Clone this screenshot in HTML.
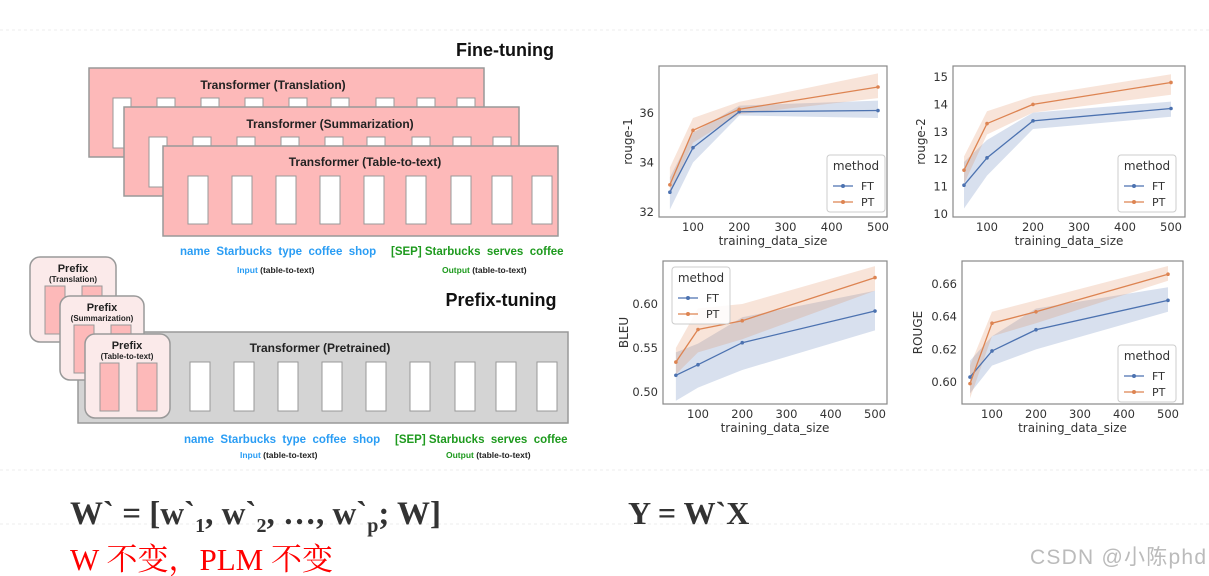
<!DOCTYPE html>
<html><head><meta charset="utf-8"><style>
body{margin:0;background:#fff;width:1209px;height:576px;overflow:hidden;font-family:"Liberation Sans","Noto Sans CJK SC",sans-serif}
svg{position:absolute;left:0;top:0}
</style></head><body>
<svg id="s" width="1209" height="576" viewBox="0 0 1209 576">
<g stroke="#eee" stroke-dasharray="3,3">
<line x1="0" y1="30" x2="1209" y2="30"/><line x1="0" y1="470" x2="1209" y2="470"/><line x1="0" y1="524" x2="1209" y2="524"/>
</g>
<g font-family="Liberation Sans, sans-serif" font-weight="bold">
<text x="505" y="56" font-size="18" text-anchor="middle" fill="#111">Fine-tuning</text>
<g>
<rect x="89" y="68" width="395" height="89" fill="#fdb9b9" stroke="#999" stroke-width="1.5"/>
<text x="273" y="89" font-size="12" text-anchor="middle" fill="#222">Transformer (Translation)</text>
<g fill="#fff" stroke="#999"><rect x="113" y="98" width="18" height="50"/><rect x="157" y="98" width="18" height="9"/><rect x="201" y="98" width="18" height="9"/><rect x="245" y="98" width="18" height="9"/><rect x="289" y="98" width="18" height="9"/><rect x="331" y="98" width="18" height="9"/><rect x="376" y="98" width="18" height="9"/><rect x="417" y="98" width="18" height="9"/><rect x="457" y="98" width="18" height="9"/></g>
</g>
<g>
<rect x="124" y="107" width="395" height="89" fill="#fdb9b9" stroke="#999" stroke-width="1.5"/>
<text x="330" y="128" font-size="12" text-anchor="middle" fill="#222">Transformer (Summarization)</text>
<g fill="#fff" stroke="#999"><rect x="149" y="137" width="18" height="50"/><rect x="193" y="137" width="18" height="9"/><rect x="237" y="137" width="18" height="9"/><rect x="281" y="137" width="18" height="9"/><rect x="325" y="137" width="18" height="9"/><rect x="367" y="137" width="18" height="9"/><rect x="412" y="137" width="18" height="9"/><rect x="453" y="137" width="18" height="9"/><rect x="493" y="137" width="18" height="9"/></g>
</g>
<g>
<rect x="163" y="146" width="395" height="90" fill="#fdb9b9" stroke="#999" stroke-width="1.5"/>
<text x="365" y="166" font-size="12" text-anchor="middle" fill="#222">Transformer (Table-to-text)</text>
<g fill="#fff" stroke="#999"><rect x="188" y="176" width="20" height="48"/><rect x="232" y="176" width="20" height="48"/><rect x="276" y="176" width="20" height="48"/><rect x="320" y="176" width="20" height="48"/><rect x="364" y="176" width="20" height="48"/><rect x="406" y="176" width="20" height="48"/><rect x="451" y="176" width="20" height="48"/><rect x="492" y="176" width="20" height="48"/><rect x="532" y="176" width="20" height="48"/></g>
</g>
<text x="180" y="255" font-size="11.5" fill="#2a9df4" xml:space="preserve">name  Starbucks  type  coffee  shop</text>
<text x="391" y="255" font-size="11.5" fill="#1e9a1e" xml:space="preserve">[SEP] Starbucks  serves  coffee</text>
<text x="237" y="273" font-size="8.5" fill="#2a9df4">Input <tspan fill="#222">(table-to-text)</tspan></text>
<text x="442" y="273" font-size="8.5" fill="#1e9a1e">Output <tspan fill="#222">(table-to-text)</tspan></text>
<text x="501" y="306" font-size="18" text-anchor="middle" fill="#111">Prefix-tuning</text>
<g>
<rect x="78" y="332" width="490" height="91" fill="#d4d4d4" stroke="#999" stroke-width="1.5"/>
<text x="320" y="352" font-size="12" text-anchor="middle" fill="#222">Transformer  (Pretrained)</text>
<g fill="#fff" stroke="#999"><rect x="190" y="362" width="20" height="49"/><rect x="234" y="362" width="20" height="49"/><rect x="278" y="362" width="20" height="49"/><rect x="322" y="362" width="20" height="49"/><rect x="366" y="362" width="20" height="49"/><rect x="410" y="362" width="20" height="49"/><rect x="455" y="362" width="20" height="49"/><rect x="496" y="362" width="20" height="49"/><rect x="537" y="362" width="20" height="49"/></g>
</g>
<g>
<rect x="30" y="257" width="86" height="85" rx="10" fill="#fbeaea" stroke="#999" stroke-width="1.5"/>
<text x="73" y="272" font-size="11" text-anchor="middle" fill="#222">Prefix</text>
<text x="73" y="282" font-size="8" text-anchor="middle" fill="#222">(Translation)</text>
<rect x="45" y="286" width="20" height="48" fill="#fdb9b9" stroke="#999"/><rect x="82" y="286" width="20" height="48" fill="#fdb9b9" stroke="#999"/>
</g>
<g>
<rect x="60" y="296" width="84" height="84" rx="10" fill="#fbeaea" stroke="#999" stroke-width="1.5"/>
<text x="102" y="311" font-size="11" text-anchor="middle" fill="#222">Prefix</text>
<text x="102" y="321" font-size="8" text-anchor="middle" fill="#222">(Summarization)</text>
<rect x="74" y="325" width="20" height="48" fill="#fdb9b9" stroke="#999"/><rect x="111" y="325" width="20" height="48" fill="#fdb9b9" stroke="#999"/>
</g>
<g>
<rect x="85" y="334" width="85" height="84" rx="10" fill="#fbeaea" stroke="#999" stroke-width="1.5"/>
<text x="127" y="349" font-size="11" text-anchor="middle" fill="#222">Prefix</text>
<text x="127" y="359" font-size="8" text-anchor="middle" fill="#222">(Table-to-text)</text>
<rect x="100" y="363" width="19" height="48" fill="#fdb9b9" stroke="#999"/><rect x="137" y="363" width="20" height="48" fill="#fdb9b9" stroke="#999"/>
</g>
<text x="184" y="443" font-size="11.5" fill="#2a9df4" xml:space="preserve">name  Starbucks  type  coffee  shop</text>
<text x="395" y="443" font-size="11.5" fill="#1e9a1e" xml:space="preserve">[SEP] Starbucks  serves  coffee</text>
<text x="240" y="458" font-size="8.5" fill="#2a9df4">Input <tspan fill="#222">(table-to-text)</tspan></text>
<text x="446" y="458" font-size="8.5" fill="#1e9a1e">Output <tspan fill="#222">(table-to-text)</tspan></text>
</g>
<g id="charts"></g>
<text x="70" y="524" font-family="Liberation Serif, serif" font-weight="bold" font-size="33" fill="#333">W` = [w`<tspan font-size="20" dy="8">1</tspan><tspan dy="-8">, w`</tspan><tspan font-size="20" dy="8">2</tspan><tspan dy="-8">, …, w`</tspan><tspan font-size="20" dy="8">p</tspan><tspan dy="-8">; W]</tspan></text>
<text x="628" y="524" font-family="Liberation Serif, serif" font-weight="bold" font-size="32" fill="#333">Y = W`X</text>
<text x="70" y="570" font-family="Liberation Serif, 'Noto Serif CJK SC', serif" font-size="31" fill="#f00">W 不变，PLM 不变</text>
<text x="1030" y="564" font-family="Liberation Sans, 'Noto Sans CJK SC', sans-serif" font-size="21" fill="#bbb" textLength="176">CSDN @小陈phd</text>
</svg>
<script>
const sizes=[50,100,200,500];
const xTicks=[100,200,300,400,500];
const r1FT=[32.8,34.6,36.05,36.1], r1FTlo=[32.1,34.0,35.9,35.8], r1FThi=[33.4,35.2,36.3,36.5];
const r1PT=[33.1,35.3,36.15,37.05], r1PTlo=[32.7,34.8,35.95,36.6], r1PThi=[33.8,35.8,36.45,37.6];
const r1Ticks=[32,34,36];
const r2FT=[11.05,12.05,13.4,13.85], r2FTlo=[10.2,11.4,13.1,13.55], r2FThi=[11.9,12.7,13.7,14.1];
const r2PT=[11.6,13.3,14.0,14.8], r2PTlo=[11.1,12.9,13.7,14.35], r2PThi=[12.1,13.75,14.3,15.1];
const r2Ticks=[10,11,12,13,14,15];
const bFT=[0.519,0.531,0.556,0.592], bFTlo=[0.49,0.505,0.525,0.57], bFThi=[0.545,0.555,0.585,0.615];
const bPT=[0.534,0.571,0.581,0.630], bPTlo=[0.52,0.545,0.56,0.615], bPThi=[0.55,0.595,0.60,0.643];
const bTicks=[0.50,0.55,0.60];
const rgFT=[0.603,0.619,0.632,0.650], rgFTlo=[0.593,0.61,0.62,0.643], rgFThi=[0.613,0.628,0.645,0.658];
const rgPT=[0.599,0.636,0.643,0.666], rgPTlo=[0.59,0.628,0.636,0.662], rgPThi=[0.61,0.643,0.65,0.671];
const rgTicks=[0.60,0.62,0.64,0.66];
const NS='http://www.w3.org/2000/svg';
const root=document.getElementById('charts');
function mk(t,a,p){const e=document.createElementNS(NS,t);for(const k in a)e.setAttribute(k,a[k]);(p||root).appendChild(e);return e;}
function chart(cfg){
 const g=mk('g',{});
 
 
 const X=v=>cfg.x100+(v-100)*(cfg.x500-cfg.x100)/400;
 const Y=v=>cfg.ya+(v-cfg.va)*(cfg.yb-cfg.ya)/(cfg.vb-cfg.va);
 const series=[[cfg.ft,cfg.ftlo,cfg.fthi,'#4c72b0','ft'],[cfg.pt,cfg.ptlo,cfg.pthi,'#dd8452','pt']];
 series.forEach(([m,lo,hi,c,n])=>{
  let d='M'+sizes.map((s,i)=>X(s)+','+Y(hi[i])).join('L')+'L'+sizes.map((s,i)=>X(s)+','+Y(lo[i])).reverse().join('L')+'Z';
  const b=mk('path',{d:d,fill:c,'fill-opacity':0.22},g);
  
  
 });
 series.forEach(([m,lo,hi,c,n])=>{
  const l=mk('polyline',{points:sizes.map((s,i)=>X(s)+','+Y(m[i])).join(' '),fill:'none',stroke:c,'stroke-width':1.3},g);
  
  
  sizes.forEach((s,i)=>{const p=mk('circle',{cx:X(s),cy:Y(m[i]),r:1.8,fill:c},g);
   
   });
 });
 const fr=mk('rect',{x:cfg.l,y:cfg.t,width:cfg.r-cfg.l,height:cfg.b-cfg.t,fill:'none',stroke:'#888','stroke-width':1.2},g);
 
 
 xTicks.forEach(v=>{const t=mk('text',{x:X(v),y:cfg.b+14,'font-size':11.5,'text-anchor':'middle',fill:'#333','font-family':'DejaVu Sans, sans-serif'},g);t.textContent=v;
  
  });
 cfg.ticks.forEach(v=>{const t=mk('text',{x:cfg.l-5,y:Y(v)+4,'font-size':11.5,'text-anchor':'end',fill:'#333','font-family':'DejaVu Sans, sans-serif'},g);t.textContent=cfg.fmt(v);
  
  });
 const xt=mk('text',{x:(cfg.l+cfg.r)/2,y:cfg.b+28,'font-size':12,'text-anchor':'middle',fill:'#333','font-family':'DejaVu Sans, sans-serif'},g);xt.textContent='training_data_size';
 
 
 const yx=cfg.yl,yy=(cfg.t+cfg.b)/2;
 const yt=mk('text',{x:yx,y:yy,'font-size':12,'text-anchor':'middle',fill:'#333','font-family':'DejaVu Sans, sans-serif',transform:'rotate(-90 '+yx+' '+yy+')'},g);yt.textContent=cfg.ylabel;
 
 
 const lg=mk('g',{},g);
 
 
 const lx=cfg.lx,ly=cfg.ly;
 mk('rect',{x:lx,y:ly,width:58,height:57,rx:3,fill:'#fff','fill-opacity':0.85,stroke:'#ccc'},lg);
 const lt=mk('text',{x:lx+29,y:ly+15,'font-size':12,'text-anchor':'middle',fill:'#333','font-family':'DejaVu Sans, sans-serif'},lg);lt.textContent='method';
 [['FT','#4c72b0'],['PT','#dd8452']].forEach(([n,c],i)=>{
  const yy2=ly+31+i*16;
  mk('line',{x1:lx+6,y1:yy2,x2:lx+26,y2:yy2,stroke:c,'stroke-width':1.3},lg);
  mk('circle',{cx:lx+16,cy:yy2,r:2,fill:c},lg);
  const e=mk('text',{x:lx+34,y:yy2+4,'font-size':11,fill:'#333','font-family':'DejaVu Sans, sans-serif'},lg);e.textContent=n;
  
  
 });
}
chart({name:'rouge1-chart',l:659,r:887,t:66,b:217,x100:693,x500:878,ya:212,va:32,yb:113,vb:36,ticks:r1Ticks,fmt:v=>v,ft:r1FT,ftlo:r1FTlo,fthi:r1FThi,pt:r1PT,ptlo:r1PTlo,pthi:r1PThi,ylabel:'rouge-1',yl:632,lx:827,ly:155});
chart({name:'rouge2-chart',l:953,r:1185,t:66,b:217,x100:987,x500:1171,ya:214,va:10,yb:77,vb:15,ticks:r2Ticks,fmt:v=>v,ft:r2FT,ftlo:r2FTlo,fthi:r2FThi,pt:r2PT,ptlo:r2PTlo,pthi:r2PThi,ylabel:'rouge-2',yl:925,lx:1118,ly:155});
chart({name:'bleu-chart',l:663,r:887,t:261,b:404,x100:698,x500:875,ya:392,va:0.50,yb:304,vb:0.60,ticks:bTicks,fmt:v=>v.toFixed(2),ft:bFT,ftlo:bFTlo,fthi:bFThi,pt:bPT,ptlo:bPTlo,pthi:bPThi,ylabel:'BLEU',yl:628,lx:672,ly:267});
chart({name:'rouge-chart',l:962,r:1183,t:261,b:404,x100:992,x500:1168,ya:382,va:0.60,yb:284,vb:0.66,ticks:rgTicks,fmt:v=>v.toFixed(2),ft:rgFT,ftlo:rgFTlo,fthi:rgFThi,pt:rgPT,ptlo:rgPTlo,pthi:rgPThi,ylabel:'ROUGE',yl:922,lx:1118,ly:345});
</script>
</body></html>
